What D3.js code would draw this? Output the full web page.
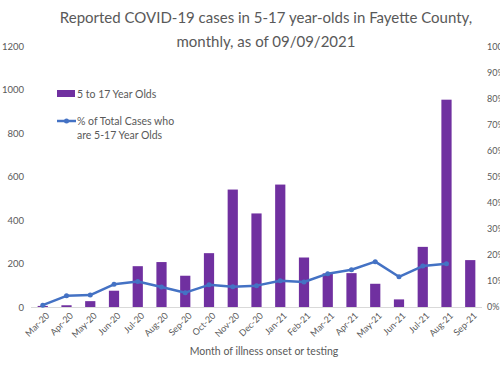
<!DOCTYPE html>
<html>
<head>
<meta charset="utf-8">
<script src="https://cdn.jsdelivr.net/npm/d3@7"></script>
<style>
  body { margin: 0; background: #fff; }
  text { font-family: Lato, "Liberation Sans", sans-serif; fill: #595959; }
</style>
</head>
<body>
<script>
// chart data
var months = ["Mar-20","Apr-20","May-20","Jun-20","Jul-20","Aug-20","Sep-20","Oct-20","Nov-20","Dec-20",
              "Jan-21","Feb-21","Mar-21","Apr-21","May-21","Jun-21","Jul-21","Aug-21","Sep-21"];
var cases = [5, 8, 27, 75, 188, 207, 144, 248, 541, 431, 564, 228, 155, 156, 107, 35, 277, 955, 216];
var pctCases = [0.7, 4.3, 4.6, 8.7, 9.8, 7.7, 5.5, 8.5, 7.8, 8.2, 10.1, 9.6, 12.8, 14.3, 17.4, 11.6, 15.7, 16.6, null];
var leftTicks = [0, 200, 400, 600, 800, 1000, 1200];
var rightTicks = [0, 10, 20, 30, 40, 50, 60, 70, 80, 90, 100];

var width = 500, height = 368;
var plot = {left: 31, right: 482, top: 46.5, bottom: 307};

var svg = d3.select("body").append("svg")
  .attr("width", width)
  .attr("height", height);

var x = d3.scaleBand()
  .domain(months)
  .range([plot.left, plot.right])
  .paddingInner(0.57)
  .paddingOuter(0.28);

var y = d3.scaleLinear().domain([0, 1200]).range([plot.bottom, plot.top]);
var y2 = d3.scaleLinear().domain([0, 100]).range([plot.bottom, plot.top]);

// title
svg.append("text")
  .attr("x", 266).attr("y", 23)
  .attr("text-anchor", "middle")
  .style("font-size", "15px")
  .text("Reported COVID-19 cases in 5-17 year-olds in Fayette County,");
svg.append("text")
  .attr("x", 266).attr("y", 47)
  .attr("text-anchor", "middle")
  .style("font-size", "15px")
  .text("monthly, as of 09/09/2021");

// left axis labels
var yAxis = d3.axisLeft(y).tickValues(leftTicks).tickSize(0).tickPadding(0)
  .tickFormat(d3.format("d"));
svg.append("g")
  .attr("transform", "translate(24,0)")
  .call(yAxis)
  .call(function(g) { g.select(".domain").remove(); })
  .selectAll("text")
  .style("font-size", "9.5px")
  .attr("fill", "#595959");

// right axis labels (cut by the edge, as in the source image)
var yAxis2 = d3.axisRight(y2).tickValues(rightTicks).tickSize(0).tickPadding(0)
  .tickFormat(function(d) { return d + "%"; });
svg.append("g")
  .attr("transform", "translate(487,0)")
  .call(yAxis2)
  .call(function(g) { g.select(".domain").remove(); })
  .selectAll("text")
  .style("font-size", "9px")
  .attr("fill", "#595959");

// bars
svg.append("g").selectAll("rect")
  .data(cases)
  .enter()
  .append("rect")
  .attr("x", function(d, i) { return x(months[i]); })
  .attr("y", function(d) { return y(d); })
  .attr("width", x.bandwidth())
  .attr("height", function(d) { return y(0) - y(d); })
  .attr("fill", "#7030A0");

// x axis line
svg.append("line")
  .attr("x1", plot.left).attr("x2", plot.right)
  .attr("y1", plot.bottom + 0.5).attr("y2", plot.bottom + 0.5)
  .attr("stroke", "#D9D9D9");

// percentage line
var linePts = pctCases.map(function(d, i) { return [months[i], d]; })
  .filter(function(d) { return d[1] !== null; });
var line = d3.line()
  .x(function(d) { return x(d[0]) + x.bandwidth() / 2; })
  .y(function(d) { return y2(d[1]); });
svg.append("path")
  .datum(linePts)
  .attr("d", line)
  .attr("fill", "none")
  .attr("stroke", "#4472C4")
  .attr("stroke-width", 2.5)
  .attr("stroke-linejoin", "round");
svg.append("g").selectAll("circle")
  .data(linePts)
  .enter()
  .append("circle")
  .attr("cx", function(d) { return x(d[0]) + x.bandwidth() / 2; })
  .attr("cy", function(d) { return y2(d[1]); })
  .attr("r", 2.5)
  .attr("fill", "#4472C4");

// x tick labels, rotated
var xAxis = d3.axisBottom(x).tickSize(0).tickPadding(0);
svg.append("g")
  .attr("transform", "translate(0," + (plot.bottom + 6) + ")")
  .call(xAxis)
  .call(function(g) { g.select(".domain").remove(); })
  .selectAll("text")
  .style("font-size", "9px")
  .attr("fill", "#595959")
  .attr("text-anchor", "end")
  .attr("y", 0)
  .attr("dy", "0.35em")
  .attr("transform", "translate(5,1) rotate(-45)");

// x axis title
svg.append("text")
  .attr("x", 264).attr("y", 355)
  .attr("text-anchor", "middle")
  .style("font-size", "10.5px")
  .text("Month of illness onset or testing");

// legend
var legend = svg.append("g");
legend.append("rect")
  .attr("x", 57).attr("y", 90).attr("width", 18).attr("height", 7)
  .attr("fill", "#7030A0");
legend.append("text")
  .attr("x", 77).attr("y", 97.5)
  .style("font-size", "10.5px")
  .text("5 to 17 Year Olds");
legend.append("line")
  .attr("x1", 57).attr("x2", 76).attr("y1", 121).attr("y2", 121)
  .attr("stroke", "#4472C4").attr("stroke-width", 2.5);
legend.append("circle")
  .attr("cx", 66.5).attr("cy", 121).attr("r", 2.5)
  .attr("fill", "#4472C4");
legend.append("text")
  .attr("x", 77).attr("y", 125)
  .style("font-size", "10.5px")
  .text("% of Total Cases who");
legend.append("text")
  .attr("x", 77).attr("y", 139)
  .style("font-size", "10.5px")
  .text("are 5-17 Year Olds");
</script>
</body>
</html>
